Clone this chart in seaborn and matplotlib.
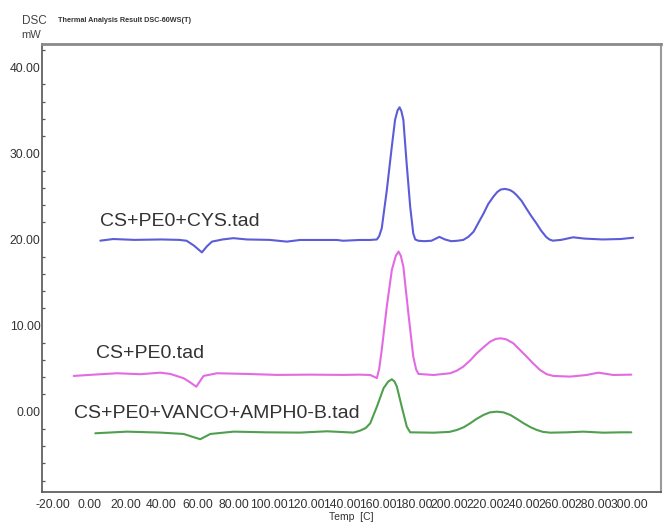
import matplotlib
matplotlib.use("Agg")
import matplotlib.pyplot as plt
from matplotlib.ticker import MultipleLocator, FormatStrFormatter
import pandas as pd
import seaborn as sns

# DSC traces: temperature (C) and heat flow (mW)
cys_temp = [6.1, 13.3, 25, 40, 50, 54, 58, 62.5, 65.3, 68.1, 74, 80, 87.5, 100,
            109.7, 117, 130, 137.5, 141, 150, 156, 159.7, 161, 162.4, 165.2, 168,
            169.8, 171.2, 172.3, 173.3, 174.4, 176.2, 178.2, 179.9, 181, 182.7, 186,
            190, 194.4, 197.5, 201, 204.5, 207.7, 210.5, 213.4, 216, 218.9, 221.5,
            224.4, 226.5, 228.5, 230.9, 233.5, 235.5, 237.2, 240, 242.7, 245.5, 248.2,
            251, 253.7, 255.5, 257.4, 262, 268.7, 275, 285, 295, 302]
cys_flow = [19.86, 20.05, 19.95, 20.0, 19.95, 19.85, 19.3, 18.5, 19.2, 19.75, 20.0,
            20.15, 20.0, 19.95, 19.75, 19.94, 19.94, 19.94, 19.85, 19.94, 19.94, 20.0,
            20.4, 21.3, 25.7, 30.8, 33.9, 35.0, 35.35, 34.9, 33.9, 28.9, 23.8, 20.7,
            20.0, 19.85, 19.8, 19.85, 20.3, 20.0, 19.8, 19.85, 19.95, 20.3, 20.9,
            21.9, 23.0, 24.1, 24.97, 25.5, 25.8, 25.87, 25.75, 25.5, 25.17, 24.5,
            23.6, 22.7, 21.9, 21.0, 20.3, 20.0, 19.86, 19.95, 20.25, 20.1, 20.0,
            20.05, 20.2]

peo_temp = [-8.7, 2.4, 15.4, 28.3, 39.4, 45, 52.4, 56, 59.4, 63.4, 70.9, 87.5, 104.2,
            122.7, 141.2, 150, 156, 159.7, 161, 162.4, 165.2, 168, 170.2, 171.7, 173.0,
            174.4, 177.2, 179.9, 181.5, 182.8, 191.2, 200.4, 204, 207.7, 211.5, 215.2,
            219, 222.6, 225.8, 228.5, 231.5, 235.5, 239, 242.9, 246.5, 250.3, 254,
            257.7, 267, 276.2, 282.7, 291, 301]
peo_flow = [4.15, 4.3, 4.46, 4.35, 4.53, 4.38, 3.88, 3.4, 2.9, 4.15, 4.46, 4.38, 4.27,
            4.3, 4.27, 4.3, 4.26, 3.9, 5.0, 7.17, 12.2, 16.46, 18.1, 18.6, 18.1,
            16.84, 11.4, 6.4, 4.9, 4.38, 4.26, 4.46, 4.75, 5.23, 5.95, 6.78, 7.5,
            8.13, 8.45, 8.52, 8.4, 7.94, 7.2, 6.39, 5.6, 4.84, 4.35, 4.15, 4.07,
            4.26, 4.53, 4.26, 4.3]

drug_temp = [3.3, 20.9, 39.4, 52.4, 57, 61.6, 67.2, 80.1, 98.6, 117, 132, 146.7,
             150.4, 153.5, 156, 159.7, 163.4, 166, 168, 169.5, 170.8, 173.5, 176.3,
             178.2, 191.2, 200, 204.1, 208, 211.5, 215, 218.9, 222.5, 226.3, 230,
             233.8, 237.5, 241.2, 245, 248.6, 252, 256, 265, 274.4, 285.5, 295, 301]
drug_flow = [-2.51, -2.32, -2.43, -2.59, -2.9, -3.2, -2.59, -2.32, -2.4, -2.43, -2.28,
             -2.43, -2.2, -1.9, -1.35, 0.58, 2.72, 3.5, 3.76, 3.5, 2.9, 0.58, -1.74,
             -2.4, -2.44, -2.35, -2.13, -1.8, -1.35, -0.85, -0.38, -0.08, 0.0, -0.08,
             -0.38, -0.85, -1.35, -1.8, -2.13, -2.35, -2.44, -2.4, -2.32, -2.44,
             -2.4, -2.4]

series_names = ["CS+PE0+CYS.tad", "CS+PE0.tad", "CS+PE0+VANCO+AMPH0-B.tad"]
series_colors = ["#5c5cd8", "#e26ae2", "#4f9f4f"]
x_ticks = list(range(-20, 301, 20))
y_ticks = [0, 10, 20, 30, 40]

frames = []
for name, t, f in zip(series_names,
                      [cys_temp, peo_temp, drug_temp],
                      [cys_flow, peo_flow, drug_flow]):
    frames.append(pd.DataFrame({"Temp": t, "DSC": f, "sample": name}))
data = pd.concat(frames, ignore_index=True)

sns.set_style("white")
plt.rcParams["font.family"] = ["Liberation Sans", "DejaVu Sans"]

fig = plt.figure(figsize=(6.64, 5.22), dpi=100)
ax = fig.add_axes([42 / 664, 1 - 492 / 522, 619 / 664, 448 / 522])

sns.lineplot(data=data, x="Temp", y="DSC", hue="sample", palette=series_colors,
             hue_order=series_names, estimator=None, sort=False, linewidth=1.5,
             legend=False, ax=ax)

ax.set_xlim(-26.3, 317.5)
ax.set_ylim(-9.33, 42.7)
ax.set_xticks(x_ticks)
ax.set_yticks(y_ticks)
ax.yaxis.set_minor_locator(MultipleLocator(2))
ax.xaxis.set_major_formatter(FormatStrFormatter("%.2f"))
ax.yaxis.set_major_formatter(FormatStrFormatter("%.2f"))
ax.tick_params(axis="both", which="major", direction="in", length=4, width=1,
               color="#555555", labelsize=8.7, labelcolor="#333333")
ax.tick_params(axis="x", pad=5)
ax.tick_params(axis="y", pad=1)
ax.tick_params(axis="y", which="minor", direction="in", length=2.5, width=0.9,
               color="#555555", left=True)
ax.set_xlabel("Temp  [C]", fontsize=7.5, color="#333333", labelpad=1)
ax.set_ylabel("")

ax.spines["left"].set_color("#555555")
ax.spines["left"].set_linewidth(1.2)
ax.spines["bottom"].set_color("#555555")
ax.spines["bottom"].set_linewidth(1.2)
ax.spines["top"].set_color("#8a8a8a")
ax.spines["top"].set_linewidth(2.0)
ax.spines["right"].set_color("#9a9a9a")
ax.spines["right"].set_linewidth(1.5)

# trace labels
label_pos = [(5.7, 22.07), (3.9, 6.7), (-8.7, -0.27)]
for name, (lx, ly) in zip(series_names, label_pos):
    ax.text(lx, ly, name, fontsize=14, color="#333333", ha="left", va="center")

fig.text(22 / 664, 1 - 21 / 522, "DSC", fontsize=8.5, color="#444444",
         ha="left", va="center")
fig.text(21 / 664, 1 - 35 / 522, "mW", fontsize=8, color="#444444",
         ha="left", va="center")
fig.text(58 / 664, 1 - 21 / 522, "Thermal Analysis Result DSC-60WS(T)",
         fontsize=5.2, color="#333333", ha="left", va="center", weight="bold")

fig.savefig("out.png", dpi=100)
